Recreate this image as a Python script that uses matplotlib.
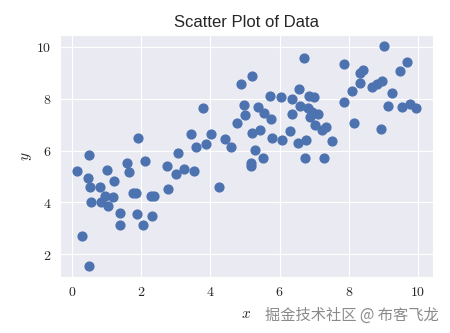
import matplotlib
matplotlib.use("Agg")
import matplotlib.pyplot as plt
import seaborn as sns

x = [0.14, 0.29, 0.46, 0.49, 0.49, 0.53, 0.56, 0.80, 0.85, 0.95,
     1.00, 1.04, 1.19, 1.22, 1.38, 1.38, 1.59, 1.65, 1.76, 1.84,
     1.88, 1.90, 2.06, 2.12, 2.27, 2.37, 2.30, 2.75, 2.78, 3.00,
     3.07, 3.24, 3.52, 3.44, 3.58, 3.79, 3.86, 4.02, 4.26, 4.42,
     4.60, 4.77, 4.89, 4.97, 5.01, 5.17, 5.17, 5.21, 5.21, 5.30,
     5.38, 5.43, 5.52, 5.54, 5.72, 5.75, 5.79, 6.05, 6.08, 6.31,
     6.37, 6.37, 6.54, 6.56, 6.59, 6.71, 6.72, 6.75, 6.82, 6.84,
     6.88, 6.93, 7.00, 7.03, 7.12, 7.22, 7.33, 7.29, 7.50, 7.85,
     7.85, 8.08, 8.14, 8.31, 8.33, 8.42, 8.67, 8.81, 8.93, 8.96,
     9.02, 9.12, 9.24, 9.49, 9.54, 9.68, 9.76, 9.93]
y = [5.23, 2.72, 4.93, 1.56, 5.83, 4.58, 4.03, 4.58, 4.03, 4.26,
     5.26, 3.85, 4.20, 4.84, 3.59, 3.13, 5.51, 5.16, 4.37, 4.37,
     3.55, 6.50, 3.13, 5.58, 4.24, 4.24, 3.49, 5.42, 4.52, 5.10,
     5.90, 5.27, 5.23, 6.62, 6.15, 7.63, 6.27, 6.65, 4.60, 6.46,
     6.15, 7.07, 8.55, 7.74, 7.35, 5.53, 5.39, 8.89, 6.66, 6.03,
     7.67, 6.78, 5.70, 7.46, 8.12, 7.20, 6.50, 8.05, 6.42, 6.77,
     7.98, 7.40, 6.30, 8.39, 7.71, 9.56, 5.70, 6.40, 7.62, 8.12,
     7.31, 7.50, 8.08, 6.97, 7.42, 6.80, 6.91, 5.70, 6.35, 9.33,
     7.86, 8.29, 7.08, 8.99, 8.62, 9.10, 8.45, 8.58, 6.84, 8.67,
     10.03, 7.73, 8.20, 9.05, 7.66, 9.43, 7.78, 7.62]

xticks = [0, 2, 4, 6, 8, 10]
yticks = [2, 4, 6, 8, 10]
title = "Scatter Plot of Data"
watermark = "掘金技术社区 @ 布客飞龙"

sns.set_style("darkgrid")
plt.rcParams['font.family'] = ['DejaVu Sans']
plt.rcParams['mathtext.fontset'] = 'cm'

fig = plt.figure(figsize=(4.5, 3.33), dpi=100)
ax = fig.add_axes([0.1333, 0.169, 0.828, 0.726])
ax.scatter(x, y, s=40, color="#4C72B0")
ax.set_xticks(xticks)
ax.set_yticks(yticks)
ax.set_xticklabels([f"${t}$" for t in xticks], fontsize=10)
ax.set_yticklabels([f"${t}$" for t in yticks], fontsize=10)
ax.tick_params(axis='both', length=0, pad=6, colors='#262626')
ax.set_xlabel("$x$", fontsize=11, labelpad=5)
ax.set_ylabel("$y$", fontsize=11, labelpad=2)
ax.set_title(title, fontsize=12, color='#262626', pad=6,
             family=['Liberation Sans', 'DejaVu Sans'])

fig.text(0.975, 0.052, watermark, ha='right', va='center', fontsize=11,
         color='#8a8a8a', family=['Noto Sans CJK SC', 'DejaVu Sans'])

fig.savefig("out.png", dpi=100)
